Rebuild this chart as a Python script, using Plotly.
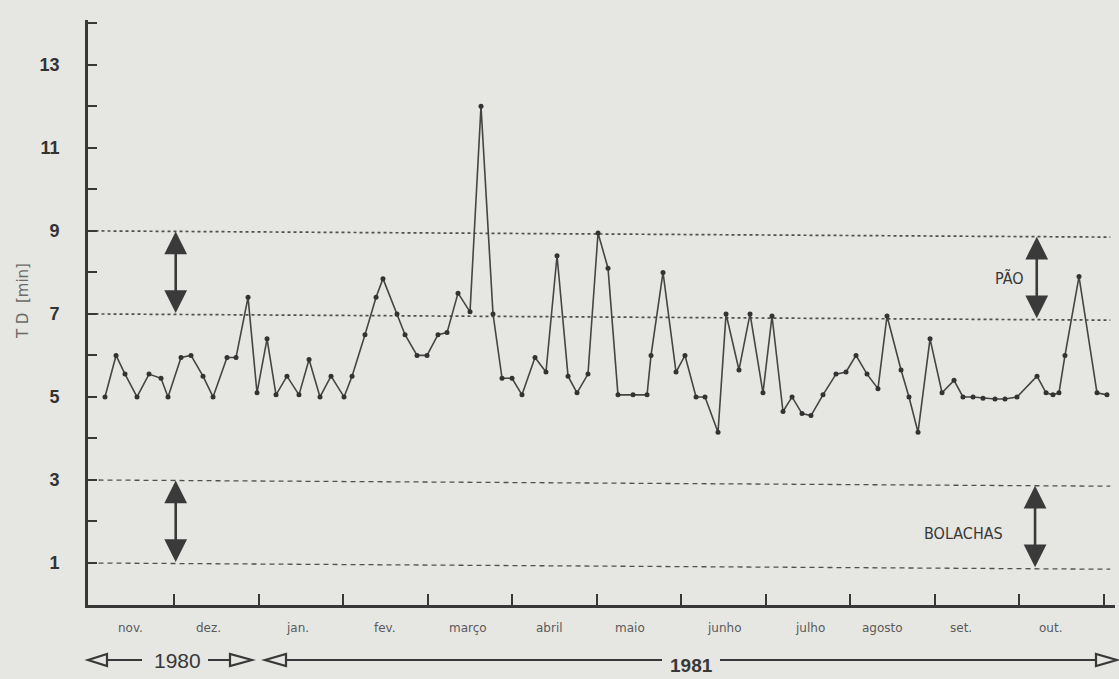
import plotly.graph_objects as go

# ---- data ----
# position in months after 1 Nov 1980 (0 = start of nov., 1 = start of dez., ...)
x_month = [0.183, 0.314, 0.420, 0.562, 0.704, 0.846, 0.929, 1.083, 1.201, 1.343,
           1.462, 1.627, 1.734, 1.876, 1.982, 2.101, 2.207, 2.337, 2.479, 2.598,
           2.728, 2.858, 3.012, 3.107, 3.260, 3.391, 3.473, 3.639, 3.734, 3.876,
           3.994, 4.124, 4.231, 4.361, 4.503, 4.633, 4.775, 4.882, 5.000, 5.118,
           5.272, 5.402, 5.533, 5.663, 5.769, 5.899, 6.018, 6.136, 6.254, 6.432,
           6.598, 6.645, 6.787, 6.941, 7.047, 7.178, 7.284, 7.438, 7.533, 7.686,
           7.817, 7.970, 8.077, 8.207, 8.314, 8.432, 8.538, 8.680, 8.834, 8.953,
           9.071, 9.201, 9.331, 9.438, 9.604, 9.698, 9.805, 9.947, 10.089, 10.231,
           10.337, 10.456, 10.574, 10.716, 10.834, 10.976, 11.213, 11.320, 11.402, 11.473,
           11.544, 11.710, 11.923, 12.041]
td_min = [5.0, 6.0, 5.55, 5.0, 5.55, 5.45, 5.0, 5.95, 6.0, 5.5,
          5.0, 5.95, 5.95, 7.4, 5.1, 6.4, 5.05, 5.5, 5.05, 5.9,
          5.0, 5.5, 5.0, 5.5, 6.5, 7.4, 7.85, 7.0, 6.5, 6.0,
          6.0, 6.5, 6.55, 7.5, 7.05, 12.0, 7.0, 5.45, 5.45, 5.05,
          5.95, 5.6, 8.4, 5.5, 5.1, 5.55, 8.95, 8.1, 5.05, 5.05,
          5.05, 6.0, 8.0, 5.6, 6.0, 5.0, 5.0, 4.15, 7.0, 5.65,
          7.0, 5.1, 6.95, 4.65, 5.0, 4.6, 4.55, 5.05, 5.55, 5.6,
          6.0, 5.55, 5.2, 6.95, 5.65, 5.0, 4.15, 6.4, 5.1, 5.4,
          5.0, 5.0, 4.97, 4.95, 4.95, 5.0, 5.5, 5.1, 5.05, 5.1,
          6.0, 7.9, 5.1, 5.05]

month_labels = ["nov.", "dez.", "jan.", "fev.", "março", "abril", "maio",
                "junho", "julho", "agosto", "set.", "out."]
month_label_pos = [0.49, 1.41, 2.46, 3.50, 4.48, 5.44, 6.40, 7.51, 8.53, 9.38, 10.31, 11.37]
month_ticks = list(range(1, 13))

y_tick_vals = list(range(1, 15))
y_tick_text = [str(v) if v % 2 else "" for v in y_tick_vals]

pao_limits = [7, 9]
bolachas_limits = [1, 3]
group_labels = ["PÃO", "BOLACHAS"]
year_labels = ["1980", "1981"]

# ---- styling ----
BG = "#e6e6e3"
INK = "#383838"
X_RANGE = [-0.018, 12.136]
Y_RANGE = [-0.012, 14.08]
LINE_END = 12.08
TILT = 0.15  # the scanned limit lines sag slightly to the right

fig = go.Figure()

# limit lines
def limit_line(v, dash, width):
    fig.add_shape(type="line", xref="x", yref="y", x0=0, x1=LINE_END,
                  y0=v, y1=v - TILT, line=dict(color="#505050", width=width, dash=dash),
                  layer="below")

for v in pao_limits:
    limit_line(v, "dot", 1.7)
for v in bolachas_limits:
    limit_line(v, "5px,4px", 1.3)

fig.add_trace(go.Scatter(
    x=x_month, y=td_min, mode="lines+markers",
    line=dict(color="#454545", width=1.6),
    marker=dict(color="#333333", size=5),
    showlegend=False, hoverinfo="skip"))

# double arrows between limit lines
def double_arrow(xa, lo, hi):
    sag = TILT * xa / LINE_END
    fig.add_annotation(x=xa, y=hi - sag, ax=xa, ay=lo - sag, xref="x", yref="y",
                       axref="x", ayref="y", text="", showarrow=True,
                       arrowhead=2, startarrowhead=2, arrowside="end+start",
                       arrowsize=1.75, startarrowsize=1.75, arrowwidth=2.6,
                       arrowcolor="#3a3a3a", standoff=0, startstandoff=0)

double_arrow(1.02, *pao_limits)
double_arrow(1.02, *bolachas_limits)
double_arrow(11.21, *pao_limits)
double_arrow(11.19, *bolachas_limits)

narrow = "Liberation Sans Narrow, DejaVu Sans Condensed, Arial Narrow, sans-serif"
fig.add_annotation(x=10.89, y=7.85, xref="x", yref="y", text=group_labels[0],
                   showarrow=False, xanchor="center",
                   font=dict(family=narrow, size=16, color=INK))
fig.add_annotation(x=10.34, y=1.7, xref="x", yref="y", text=group_labels[1],
                   showarrow=False, xanchor="center",
                   font=dict(family=narrow, size=16, color=INK))

# month labels
for lab, pos in zip(month_labels, month_label_pos):
    fig.add_annotation(x=pos, y=-0.04, xref="x", yref="paper", text=lab,
                       showarrow=False, xanchor="center", yanchor="middle",
                       font=dict(family="DejaVu Sans", size=12, color="#5a5a5a"))

# y-axis title
fig.add_annotation(x=-0.063, y=0.52, xref="paper", yref="paper", text="T D  [min]",
                   textangle=-90, showarrow=False, xanchor="center", yanchor="middle",
                   font=dict(family="DejaVu Sans", size=15, color="#6a6a6a"))

# year arrows (layout decoration in paper coords)
W = 1027.0
H = 585.0
def px(xp):
    return (xp - 88) / W
def py(yp):
    return (605 - yp) / H

YA = py(660)
def seg(x0, x1):
    fig.add_shape(type="line", xref="paper", yref="paper", x0=px(x0), x1=px(x1),
                  y0=YA, y1=YA, line=dict(color=INK, width=2))

def head(tip, base, half=6):
    xt, xb = px(tip), px(base)
    path = (f"M {xt} {YA} L {xb} {YA + half / H} L {xb} {YA - half / H} Z")
    fig.add_shape(type="path", xref="paper", yref="paper", path=path,
                  fillcolor=BG, line=dict(color=INK, width=2.2))

seg(100, 142); head(88, 107)
seg(208, 232); head(252, 230)
seg(282, 662); head(265, 286)
seg(720, 1098); head(1117, 1096)

fig.add_annotation(x=px(177), y=py(660), xref="paper", yref="paper", text=year_labels[0],
                   showarrow=False, xanchor="center", yanchor="middle",
                   font=dict(family="Liberation Sans", size=21, color=INK))
fig.add_annotation(x=px(691), y=py(665), xref="paper", yref="paper", text=year_labels[1],
                   showarrow=False, xanchor="center", yanchor="middle",
                   font=dict(family="Liberation Sans", size=19, color=INK, weight="bold"))

fig.update_xaxes(range=X_RANGE, showgrid=False, zeroline=False,
                 showline=True, linecolor=INK, linewidth=2.6,
                 tickmode="array", tickvals=month_ticks, ticks="inside",
                 ticklen=11, tickwidth=1.6, tickcolor=INK, showticklabels=False)
fig.update_yaxes(range=Y_RANGE, showgrid=False, zeroline=False,
                 showline=True, linecolor=INK, linewidth=2.6,
                 tickmode="array", tickvals=y_tick_vals, ticktext=y_tick_text,
                 ticks="inside", ticklen=9, tickwidth=1.6, tickcolor=INK,
                 ticklabelstandoff=22,
                 tickfont=dict(family="Liberation Sans", size=18, color="#333333",
                               weight="bold"))

fig.update_layout(width=1119, height=679, paper_bgcolor=BG, plot_bgcolor=BG,
                  margin=dict(l=88, r=4, t=20, b=74), showlegend=False)

fig.write_html("out.html", config={"displayModeBar": False},
               post_script="document.body.style.margin='0';document.body.style.background='%s';" % BG)
